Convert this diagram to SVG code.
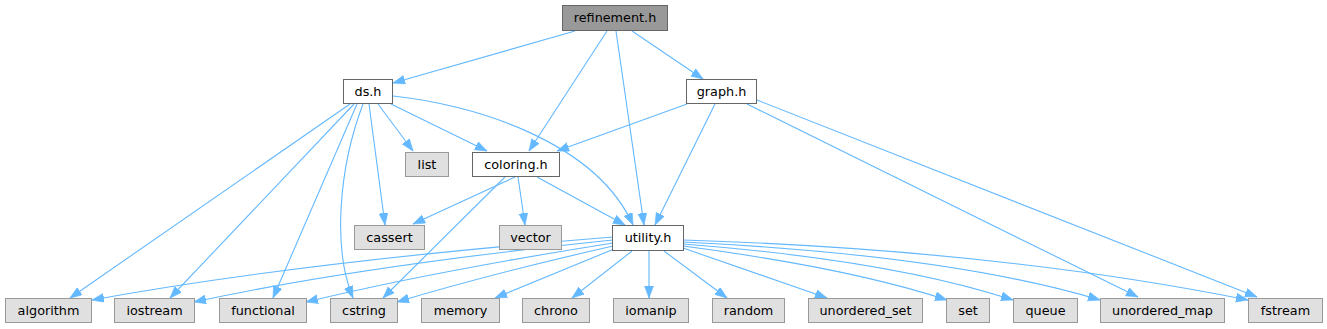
<svg xmlns="http://www.w3.org/2000/svg" width="1327" height="329" viewBox="0 0 1327 329">
<style>
.n rect{fill:#ffffff;stroke:#666666;stroke-width:1}
.root rect{fill:#999999;stroke:#666666}
.ext rect{fill:#e0e0e0;stroke:#999999}
text{font-family:"DejaVu Sans","Liberation Sans",sans-serif;font-size:12.8px;fill:#000000;text-anchor:middle}
#edges path{fill:none;stroke:#63b8ff;stroke-width:1.1;marker-end:url(#ah)}
</style>
<defs>
<marker id="ah" markerUnits="userSpaceOnUse" markerWidth="14" markerHeight="11" refX="12" refY="4.5" orient="auto">
<path d="M0,0 L12,4.5 L0,9 z" fill="#63b8ff" stroke="#63b8ff" stroke-width="0.6"/>
</marker>
</defs>
<rect width="1327" height="329" fill="#ffffff"/>
<g id="edges">
<path d="M575,31 L393,83"/>
<path d="M632,31 L703,79"/>
<path d="M607,31 L529,151"/>
<path d="M616,31 L644,225"/>
<path d="M391,104 L487,151"/>
<path d="M378,104 L413,151"/>
<path d="M393,96 C470,104 595,140 633,225"/>
<path d="M369,104 L385,225"/>
<path d="M363,104 C338,170 333,250 353,298"/>
<path d="M357,104 L273,298"/>
<path d="M354,104 L170,298"/>
<path d="M350,104 L70,298"/>
<path d="M687,104 L557,151"/>
<path d="M715,104 L655,225"/>
<path d="M747,104 L1138,297"/>
<path d="M757,100 L1257,297"/>
<path d="M515,177 L413,224"/>
<path d="M505,177 L383,298"/>
<path d="M518,177 L525,225"/>
<path d="M537,177 L625,225"/>
<path d="M613,237 Q300,262 92,300"/>
<path d="M613,240 Q360,266 194,302"/>
<path d="M613,243 Q430,272 306,302"/>
<path d="M613,246 Q490,274 397,302"/>
<path d="M614,249 L495,298"/>
<path d="M632,251 L572,298"/>
<path d="M649,251 L649,298"/>
<path d="M664,251 L727,298"/>
<path d="M683,248 L827,298"/>
<path d="M683,246 Q850,268 947,300"/>
<path d="M683,244 Q890,260 1013,300"/>
<path d="M683,242 Q950,255 1100,300"/>
<path d="M683,240 Q1000,250 1248,300"/>
</g>
<g id="refinement" class="n root"><rect x="562.5" y="5.5" width="105" height="25"/><text x="615" y="22">refinement.h</text></g>
<g id="ds" class="n"><rect x="343.5" y="79.5" width="49" height="24"/><text x="368" y="96">ds.h</text></g>
<g id="graph" class="n"><rect x="686.5" y="79.5" width="70" height="24"/><text x="721.5" y="96">graph.h</text></g>
<g id="list" class="n ext"><rect x="405.5" y="152.5" width="43" height="24"/><text x="427" y="169">list</text></g>
<g id="coloring" class="n"><rect x="472.5" y="152.5" width="87" height="24"/><text x="516" y="169">coloring.h</text></g>
<g id="cassert" class="n ext"><rect x="354.5" y="225.5" width="70" height="24"/><text x="389.5" y="242">cassert</text></g>
<g id="vector" class="n ext"><rect x="499.5" y="225.5" width="62" height="24"/><text x="530.5" y="242">vector</text></g>
<g id="utility" class="n"><rect x="612.5" y="225.5" width="71" height="25"/><text x="648" y="242">utility.h</text></g>
<g id="algorithm" class="n ext"><rect x="5.5" y="298.5" width="86" height="24"/><text x="48.5" y="315">algorithm</text></g>
<g id="iostream" class="n ext"><rect x="114.5" y="298.5" width="80" height="24"/><text x="154.5" y="315">iostream</text></g>
<g id="functional" class="n ext"><rect x="219.5" y="298.5" width="87" height="24"/><text x="263" y="315">functional</text></g>
<g id="cstring" class="n ext"><rect x="330.5" y="298.5" width="67" height="24"/><text x="364" y="315">cstring</text></g>
<g id="memory" class="n ext"><rect x="421.5" y="298.5" width="78" height="24"/><text x="460.5" y="315">memory</text></g>
<g id="chrono" class="n ext"><rect x="522.5" y="298.5" width="67" height="24"/><text x="556" y="315">chrono</text></g>
<g id="iomanip" class="n ext"><rect x="613.5" y="298.5" width="75" height="24"/><text x="651" y="315">iomanip</text></g>
<g id="random" class="n ext"><rect x="712.5" y="298.5" width="72" height="24"/><text x="748.5" y="315">random</text></g>
<g id="unordered_set" class="n ext"><rect x="808.5" y="298.5" width="114" height="24"/><text x="865.5" y="315">unordered_set</text></g>
<g id="set" class="n ext"><rect x="946.5" y="298.5" width="43" height="24"/><text x="968" y="315">set</text></g>
<g id="queue" class="n ext"><rect x="1013.5" y="298.5" width="64" height="24"/><text x="1045.5" y="315">queue</text></g>
<g id="unordered_map" class="n ext"><rect x="1100.5" y="298.5" width="124" height="24"/><text x="1162.5" y="315">unordered_map</text></g>
<g id="fstream" class="n ext"><rect x="1248.5" y="298.5" width="74" height="24"/><text x="1285.5" y="315">fstream</text></g>
</svg>
